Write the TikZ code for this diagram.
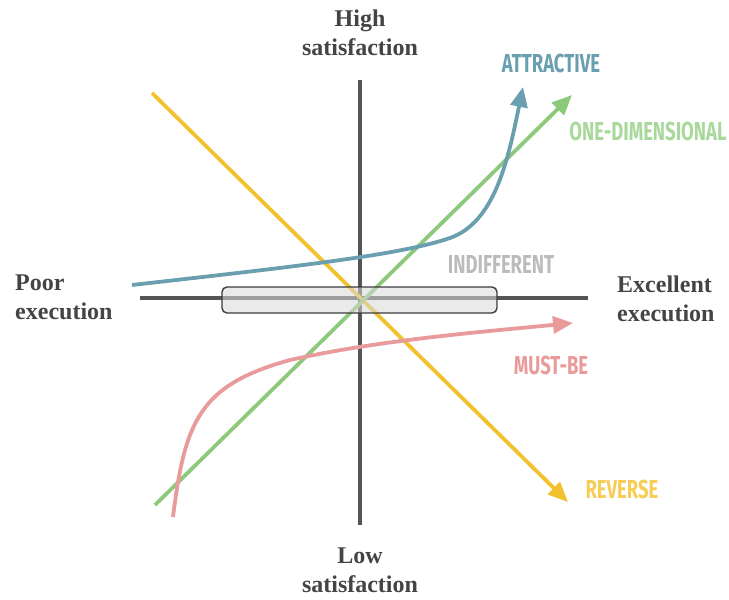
\documentclass[tikz,border=0pt]{standalone}
\usepackage{fontspec}
\usetikzlibrary{arrows.meta}
\newfontfamily\tagfont[FakeStretch=0.71]{Fira Sans}
\newfontfamily\axisfont{Liberation Serif}
\definecolor{axisgray}{HTML}{555555}
\definecolor{textgray}{HTML}{444444}
\definecolor{attrblue}{HTML}{6A9FB0}
\definecolor{onegreen}{HTML}{8DC97A}
\definecolor{onegreentxt}{HTML}{A8D89A}
\definecolor{mustred}{HTML}{E99A9A}
\definecolor{revyellow}{HTML}{F2C12E}
\definecolor{revyellowtxt}{HTML}{F7CD55}
\definecolor{indiffgray}{HTML}{BBBBBB}
\begin{document}
\begin{tikzpicture}[x=1pt,y=-1pt,
  axisline/.style={draw=axisgray,line width=4pt},
  curve/.style={line width=3.8pt,-{Triangle[length=20pt,width=17pt]}},
  axislabel/.style={font=\axisfont\bfseries\fontsize{24}{29}\selectfont,text=textgray,inner sep=0pt},
  tag/.style={font=\tagfont\bfseries\fontsize{26}{28}\selectfont,inner sep=0pt}]
\useasboundingbox (0,0) rectangle (729,600);

% axes
\coordinate (vtop) at (360,80);
\coordinate (vbot) at (360,525);
\coordinate (hleft) at (140,298);
\coordinate (hright) at (588,298);
\draw[axisline] (vtop) -- (vbot);
\draw[axisline] (hleft) -- (hright);

% reverse
\coordinate (ys) at (152,93);
\coordinate (ye) at (568,502);
\draw[curve,draw=revyellow] (ys) -- (ye);

% one-dimensional
\coordinate (gs) at (155,505);
\coordinate (ge) at (572,95);
\draw[curve,draw=onegreen] (gs) -- (ge);

% attractive
\coordinate (bs) at (132,285);
\coordinate (bm) at (450,238);
\coordinate (be) at (523,87);
\draw[curve,draw=attrblue] (bs) .. controls (300,266) and (400,255) .. (bm)
  .. controls (495,222) and (508,160) .. (be);

% must-be
\coordinate (rs) at (173,517);
\coordinate (rm) at (290,360);
\coordinate (re) at (573,323);
\draw[curve,draw=mustred] (rs) .. controls (185,420) and (200,385) .. (rm)
  .. controls (380,340) and (480,332) .. (re);

% indifferent band
\node[draw=axisgray!70!black,line width=1.4pt,rounded corners=5pt,fill=gray!30,fill opacity=0.55,
  minimum width=275pt,minimum height=26pt,inner sep=0pt] (band) at (359.5,300) {};

% axis labels
\node[axislabel,align=center,anchor=north] (high) at (360,10) {High\\satisfaction};
\node[axislabel,align=center,anchor=north] (low) at (360,548) {Low\\satisfaction};
\node[axislabel,align=left,anchor=north west] (poor) at (15,275) {Poor\\execution};
\node[axislabel,align=left,anchor=north west] (excel) at (617,276) {Excellent\\execution};

% category tags
\node[tag,text=attrblue] (tattr) at (551,63) {ATTRACTIVE};
\node[tag,text=onegreentxt] (tone) at (648,131) {ONE-DIMENSIONAL};
\node[tag,text=indiffgray] (tind) at (501,264) {INDIFFERENT};
\node[tag,text=mustred] (tmust) at (551,365) {MUST-BE};
\node[tag,text=revyellowtxt] (trev) at (622,489) {REVERSE};
\end{tikzpicture}
\end{document}
